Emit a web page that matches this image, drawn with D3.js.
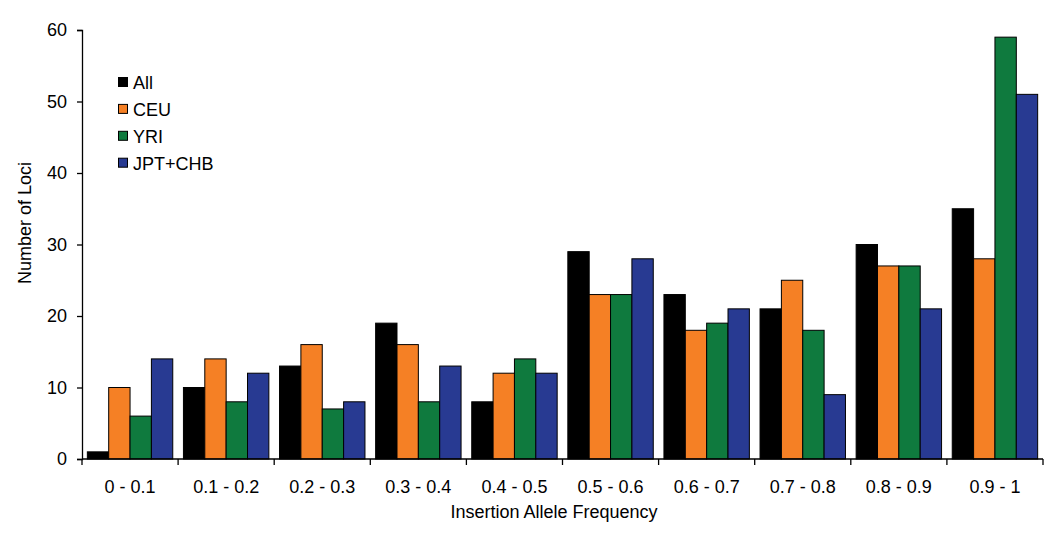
<!DOCTYPE html>
<html><head><meta charset="utf-8">
<script src="https://cdn.jsdelivr.net/npm/d3@7"></script>
<style>body{margin:0;background:#fff}svg{display:block}text{font-family:"Liberation Sans",Arial,sans-serif;fill:#000}</style>
</head><body><svg id="c" width="1050" height="538"></svg>
<script>
const categories = ["0 - 0.1","0.1 - 0.2","0.2 - 0.3","0.3 - 0.4","0.4 - 0.5","0.5 - 0.6","0.6 - 0.7","0.7 - 0.8","0.8 - 0.9","0.9 - 1"];
const seriesNames = ["All","CEU","YRI","JPT+CHB"];
const allValues = [1,10,13,19,8,29,23,21,30,35];
const ceuValues = [10,14,16,16,12,23,18,25,27,28];
const yriValues = [6,8,7,8,14,23,19,18,27,59];
const jptValues = [14,12,8,13,12,28,21,9,21,51];
const seriesColors = ["#000000","#f58025","#0f7a3e","#283a92"];
const yTicks = [0,10,20,30,40,50,60];

const series = [allValues, ceuValues, yriValues, jptValues];
const svg = d3.select("#c");
const m = {l:82, r:1043, t:30, b:459};
const x = d3.scaleBand().domain(categories).range([m.l, m.r]).paddingInner(0).paddingOuter(0);
const xs = d3.scaleBand().domain(seriesNames).range([0, x.bandwidth()]).paddingOuter(0.25).paddingInner(0);
const y = d3.scaleLinear().domain([0,60]).range([m.b, m.t]);

const g = svg.append("g");
categories.forEach((c, i) => {
  seriesNames.forEach((s, j) => {
    g.append("rect")
      .attr("x", x(c) + xs(s))
      .attr("y", y(series[j][i]))
      .attr("width", xs.bandwidth())
      .attr("height", y(0) - y(series[j][i]))
      .attr("fill", seriesColors[j])
      .attr("stroke", "#000").attr("stroke-width", 1);
  });
});

// y axis
const ya = svg.append("g").attr("transform", `translate(${m.l},0)`)
  .call(d3.axisLeft(y).tickValues(yTicks).tickSize(5).tickPadding(10));
ya.select(".domain").attr("stroke","#000").attr("stroke-width",1.3);
ya.selectAll(".tick line").attr("stroke","#000").attr("stroke-width",1.3);
ya.selectAll("text").style("font-size","18px").attr("fill","#000");

// x axis: ticks at category boundaries
const xa = svg.append("g").attr("transform", `translate(0,${m.b})`);
xa.append("line").attr("x1", m.l).attr("x2", m.r).attr("stroke","#000").attr("stroke-width",1.3);
const bounds = categories.map(c => x(c)).concat([m.r]);
xa.selectAll("line.t").data(bounds).enter().append("line")
  .attr("x1", d=>d).attr("x2", d=>d).attr("y1",0).attr("y2",6)
  .attr("stroke","#000").attr("stroke-width",1.3);
xa.selectAll("text").data(categories).enter().append("text")
  .attr("x", d => x(d) + x.bandwidth()/2).attr("y", 34)
  .attr("text-anchor","middle").style("font-size","18px").text(d=>d);

svg.append("text").attr("x", 554).attr("y", 518).attr("text-anchor","middle")
  .style("font-size","18px").text("Insertion Allele Frequency");
svg.append("text").attr("transform","translate(31,223) rotate(-90)").attr("text-anchor","middle")
  .style("font-size","18px").text("Number of Loci");

// legend
const lg = svg.append("g");
seriesNames.forEach((s, j) => {
  const yy = 82 + j*26.9;
  lg.append("rect").attr("x",118.5).attr("y",yy-4.5).attr("width",9).attr("height",9)
    .attr("fill",seriesColors[j]).attr("stroke","#000").attr("stroke-width",1);
  lg.append("text").attr("x",133).attr("y",yy+7).style("font-size","18px").text(s);
});
</script></body></html>
